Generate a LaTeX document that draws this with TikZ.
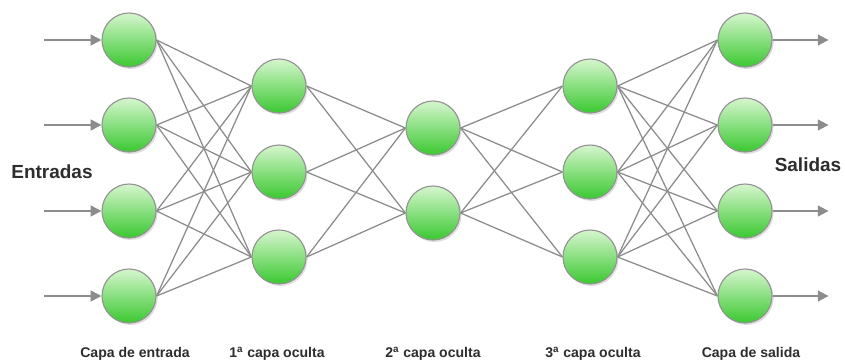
\documentclass[tikz,border=0pt]{standalone}
\usepackage{fontspec}
\setmainfont{Liberation Sans}
\usepackage{xcolor}
\usepackage{tikz}
\usetikzlibrary{arrows.meta, positioning, backgrounds, shadows}
\definecolor{neurontop}{RGB}{214,246,206}
\definecolor{neuronbot}{RGB}{58,200,48}
\definecolor{linkgray}{RGB}{140,140,140}
\definecolor{labelgray}{RGB}{45,45,45}

\begin{document}
\begin{tikzpicture}[
    neuron/.style={circle, draw=gray!85, line width=0.8pt, minimum size=1.35cm, inner sep=0pt,
        top color=neurontop, bottom color=neuronbot,
        drop shadow={opacity=0.25, shadow xshift=0.04cm, shadow yshift=-0.05cm}},
    link/.style={draw=linkgray, line width=0.9pt},
    arrow/.style={-{Triangle[length=0.27cm, width=0.27cm]}, draw=linkgray, line width=1.4pt},
    sidelabel/.style={font=\fontsize{13.5}{16}\selectfont\bfseries, text=labelgray},
    layerlabel/.style={font=\fontsize{10}{12}\selectfont\bfseries, text=labelgray}
]
\useasboundingbox (0,0) rectangle (21.125,9.05);

% Input layer
\node[neuron] (in1) at (3.225,8.05) {};
\node[neuron] (in2) at (3.225,5.925) {};
\node[neuron] (in3) at (3.225,3.775) {};
\node[neuron] (in4) at (3.225,1.65) {};

% 1st hidden layer
\node[neuron] (ha1) at (6.975,6.9) {};
\node[neuron] (ha2) at (6.975,4.75) {};
\node[neuron] (ha3) at (6.975,2.625) {};

% 2nd hidden layer
\node[neuron] (hb1) at (10.825,5.85) {};
\node[neuron] (hb2) at (10.825,3.725) {};

% 3rd hidden layer
\node[neuron] (hc1) at (14.75,6.9) {};
\node[neuron] (hc2) at (14.75,4.75) {};
\node[neuron] (hc3) at (14.75,2.625) {};

% Output layer
\node[neuron] (out1) at (18.625,8.05) {};
\node[neuron] (out2) at (18.625,5.925) {};
\node[neuron] (out3) at (18.625,3.775) {};
\node[neuron] (out4) at (18.625,1.65) {};

% Connections between layers
\begin{scope}[on background layer]
\foreach \a in {1,...,4} \foreach \b in {1,...,3} \draw[link] (in\a.east) -- (ha\b.west);
\foreach \a in {1,...,3} \foreach \b in {1,2} \draw[link] (ha\a.east) -- (hb\b.west);
\foreach \a in {1,2} \foreach \b in {1,...,3} \draw[link] (hb\a.east) -- (hc\b.west);
\foreach \a in {1,...,3} \foreach \b in {1,...,4} \draw[link] (hc\a.east) -- (out\b.west);
\end{scope}

% Input and output arrows
\foreach \i in {1,...,4} {
    \coordinate (src\i) at ([xshift=-1.43cm]in\i.west);
    \coordinate (dst\i) at ([xshift=1.4cm]out\i.east);
    \draw[arrow] (src\i) -- (in\i.west);
    \draw[arrow] (out\i.east) -- (dst\i);
}

% Side labels
\node[sidelabel] (entradas) at (1.3,4.75) {Entradas};
\node[sidelabel] (salidas) at (20.2,4.925) {Salidas};

% Layer names
\node[layerlabel] (lin) at (3.375,0.2) {Capa de entrada};
\node[layerlabel] (lha) at (6.925,0.2) {1\textsuperscript{a} capa oculta};
\node[layerlabel] (lhb) at (10.825,0.2) {2\textsuperscript{a} capa oculta};
\node[layerlabel] (lhc) at (14.825,0.2) {3\textsuperscript{a} capa oculta};
\node[layerlabel] (lout) at (18.775,0.2) {Capa de salida};

\end{tikzpicture}
\end{document}
